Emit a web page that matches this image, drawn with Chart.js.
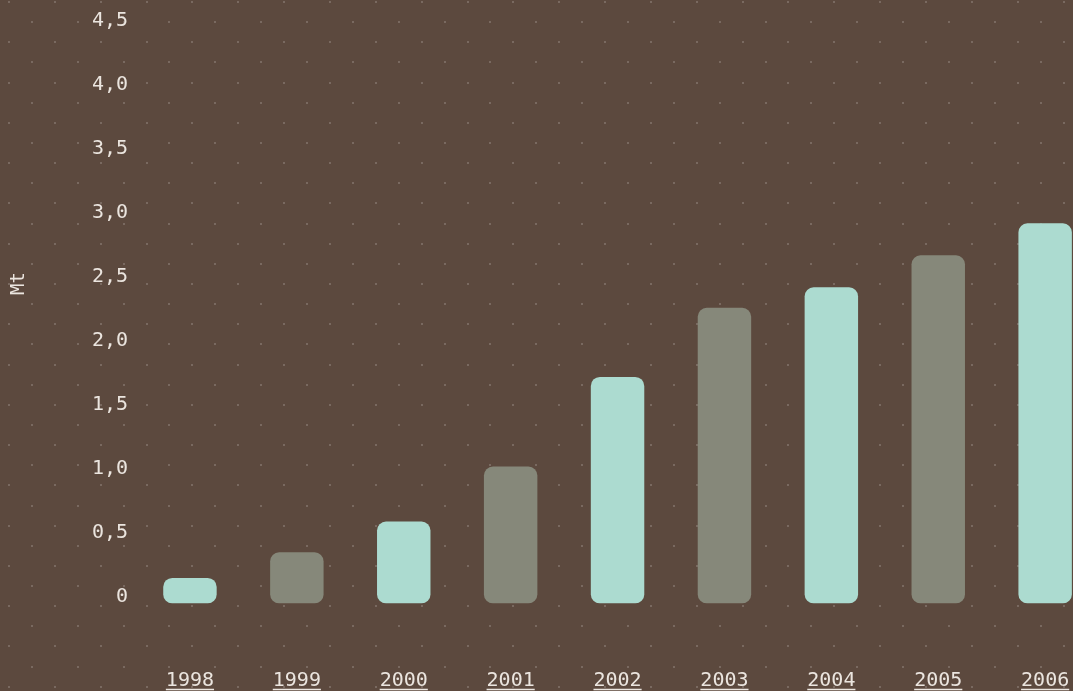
<!DOCTYPE html>
<html>
<head>
<meta charset="utf-8">
<script src="https://cdn.jsdelivr.net/npm/chart.js@4"></script>
<style>
  html, body { margin: 0; padding: 0; overflow: hidden; background: #5c493e; }
  #wrap { position: absolute; left: 0; top: -60px; width: 1110px; height: 760px; }
</style>
</head>
<body>
<div id="wrap"><canvas id="mtChart"></canvas></div>
<script>
const years = ["1998", "1999", "2000", "2001", "2002", "2003", "2004", "2005", "2006"];
const values = [0.2, 0.4, 0.64, 1.07, 1.77, 2.31, 2.47, 2.72, 2.97];
const yTicks = ["0", "0,5", "1,0", "1,5", "2,0", "2,5", "3,0", "3,5", "4,0", "4,5", "5,0"];

const mint = "#acdbd0";
const grey = "#86887a";
const textColor = "#ebe5df";
const fontName = "'DejaVu Sans Mono', monospace";

let barColors = [];
for (let i = 0; i < years.length; i++) {
  barColors.push(i % 2 == 0 ? mint : grey);
}

// dotted background + underlined year labels
const decor = {
  id: "decor",
  beforeDraw(chart) {
    const ctx = chart.ctx;
    ctx.save();
    ctx.fillStyle = "rgba(255,255,255,0.18)";
    for (let j = -4; j < 40; j++) {
      let y = 62 + j * 20.14;
      let shift = (j % 2 == 0) ? 0 : 22.9;
      for (let i = -1; i < 26; i++) {
        let x = 9 + shift + i * 45.85;
        ctx.fillRect(Math.round(x) - 1, Math.round(y) - 1, 2, 2);
      }
    }
    ctx.restore();
  },
  afterDraw(chart) {
    const ctx = chart.ctx;
    const xs = chart.scales.x;
    ctx.save();
    ctx.font = "20px " + fontName;
    ctx.strokeStyle = textColor;
    ctx.lineWidth = 1.5;
    let lineY = chart.chartArea.bottom + 86;
    for (let i = 0; i < years.length; i++) {
      let cx = xs.getPixelForTick(i);
      let w = ctx.measureText(years[i]).width;
      ctx.beginPath();
      ctx.moveTo(cx - w / 2, lineY);
      ctx.lineTo(cx + w / 2, lineY);
      ctx.stroke();
    }
    ctx.restore();
  }
};

var canvasElement = document.getElementById("mtChart");
var config = {
  type: "bar",
  data: {
    labels: years,
    datasets: [{
      label: "Mt",
      data: values,
      backgroundColor: barColors,
      borderRadius: 9,
      borderSkipped: false,
      barPercentage: 0.5,
      categoryPercentage: 1.0
    }]
  },
  options: {
    responsive: true,
    maintainAspectRatio: false,
    animation: false,
    layout: { padding: { left: 0, right: 11.4, top: 23.5, bottom: 0 } },
    plugins: {
      legend: { display: false },
      tooltip: { enabled: false }
    },
    scales: {
      x: {
        grid: { display: false, drawTicks: false },
        border: { display: false },
        ticks: {
          color: textColor,
          font: { family: fontName, size: 20 },
          padding: 65,
          maxRotation: 0,
          autoSkip: false
        },
        afterFit: function (s) {
          s.height = 96.5;
          s.paddingLeft = 0;
          s.paddingRight = 0;
        }
      },
      y: {
        min: 0,
        max: 5,
        grid: { display: false, drawTicks: false },
        border: { display: false },
        ticks: {
          stepSize: 0.5,
          color: textColor,
          font: { family: fontName, size: 20 },
          padding: 8.5,
          labelOffset: -7,
          callback: function (v, i) { return yTicks[i]; }
        },
        title: {
          display: true,
          text: "Mt",
          color: textColor,
          font: { family: fontName, size: 19 },
          padding: { top: 8, bottom: 0 }
        },
        afterFit: function (s) {
          s.width = 136.5;
          s.paddingTop = 0;
          s.paddingBottom = 0;
        }
      }
    }
  },
  plugins: [decor]
};

var mtChart = new Chart(canvasElement, config);
</script>
</body>
</html>
